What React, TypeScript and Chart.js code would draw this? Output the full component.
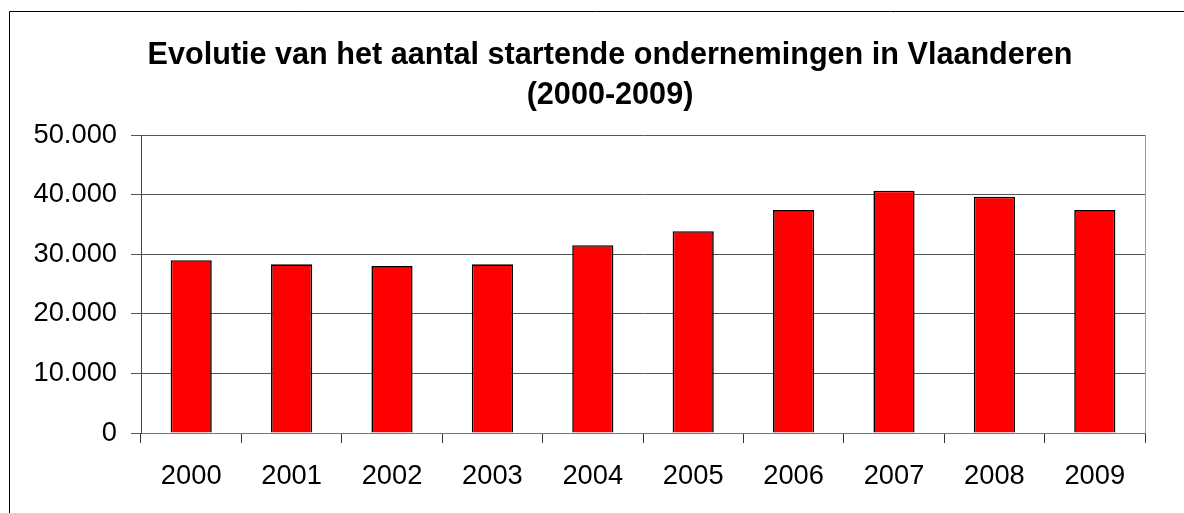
import React, { useEffect, useRef } from 'react';
import { Chart, registerables } from 'chart.js';

Chart.register(...registerables);

const years = ['2000', '2001', '2002', '2003', '2004', '2005', '2006', '2007', '2008', '2009'];
const startups = [29000, 28300, 28000, 28300, 31500, 33850, 37400, 40650, 39650, 37400];
const yTickValues = [0, 10000, 20000, 30000, 40000, 50000];
const yTickLabels = ['0', '10.000', '20.000', '30.000', '40.000', '50.000'];
const titleLines = ['Evolutie van het aantal startende ondernemingen in Vlaanderen', '(2000-2009)'];

const W = 1184;
const H = 513;
const FONT = '"Liberation Sans", Arial, sans-serif';

export default function App() {
  const ref = useRef<HTMLCanvasElement>(null);

  useEffect(() => {
    if (!ref.current) return;

    const framePlugin = {
      id: 'framePlugin',
      beforeDraw(chart: any) {
        const ctx = chart.ctx;
        ctx.save();
        ctx.fillStyle = '#ffffff';
        ctx.fillRect(0, 0, chart.width, chart.height);
        ctx.restore();
      },
      beforeDatasetsDraw(chart: any) {
        const { ctx, chartArea } = chart;
        ctx.save();
        ctx.strokeStyle = '#9a9a9a';
        ctx.lineWidth = 1;
        ctx.beginPath();
        ctx.moveTo(Math.round(chartArea.right) + 0.5, chartArea.top);
        ctx.lineTo(Math.round(chartArea.right) + 0.5, chartArea.bottom);
        ctx.stroke();
        ctx.restore();
      },
      afterDraw(chart: any) {
        const ctx = chart.ctx;
        ctx.save();
        // chart title
        ctx.fillStyle = '#000000';
        ctx.font = `bold 30.6px ${FONT}`;
        ctx.textAlign = 'center';
        ctx.textBaseline = 'alphabetic';
        const baselines = [63.5, 104];
        titleLines.forEach((line, i) => {
          ctx.fillText(line, 610, baselines[i]);
        });
        // outer frame
        ctx.strokeStyle = '#000000';
        ctx.lineWidth = 1;
        ctx.beginPath();
        ctx.moveTo(9.5, chart.height);
        ctx.lineTo(9.5, 11.5);
        ctx.lineTo(chart.width, 11.5);
        ctx.stroke();
        ctx.restore();
      },
    };

    const chart = new Chart(ref.current, {
      type: 'bar',
      data: {
        labels: years,
        datasets: [
          {
            label: 'Startende ondernemingen',
            data: startups,
            backgroundColor: '#ff0000',
            borderColor: '#000000',
            borderWidth: 1.6,
            barPercentage: 0.41,
            categoryPercentage: 1,
          },
        ],
      },
      options: {
        responsive: false,
        animation: false,
        devicePixelRatio: 1,
        layout: { padding: { left: 0, right: 39, top: 135, bottom: 0 } },
        plugins: {
          legend: { display: false },
          tooltip: { enabled: false },
          title: { display: false },
        },
        scales: {
          x: {
            grid: {
              display: true,
              drawOnChartArea: false,
              drawTicks: true,
              tickLength: 10,
              offset: true,
              color: '#333333',
            },
            border: { display: true, color: '#777777', width: 1 },
            ticks: {
              color: '#000000',
              padding: 17,
              maxRotation: 0,
              font: { family: FONT, size: 27.3 },
            },
            afterFit(scale: any) {
              scale.height = 80;
            },
          },
          y: {
            min: 0,
            max: 50000,
            grid: {
              color: '#555555',
              lineWidth: 1,
              drawTicks: true,
              tickLength: 10,
            },
            border: { display: true, color: '#444444', width: 1 },
            ticks: {
              stepSize: 10000,
              color: '#000000',
              padding: 14,
              font: { family: FONT, size: 27.3 },
              callback: (v: any) => {
                const i = yTickValues.indexOf(Number(v));
                return i >= 0 ? yTickLabels[i] : '';
              },
            },
            afterFit(scale: any) {
              scale.width = 141;
            },
          },
        },
      },
      plugins: [framePlugin],
    } as any);

    return () => chart.destroy();
  }, []);

  return (
    <div style={{ position: 'fixed', left: 0, top: 0, width: W, height: H, background: '#ffffff' }}>
      <canvas ref={ref} width={W} height={H} style={{ display: 'block', width: W, height: H }} />
    </div>
  );
}
